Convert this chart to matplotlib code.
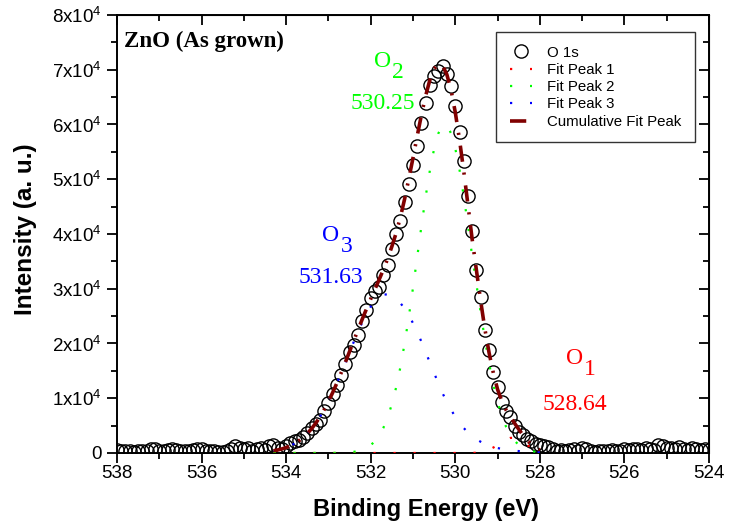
import numpy as np
import matplotlib
matplotlib.use("Agg")
import matplotlib.pyplot as plt
from matplotlib.ticker import MultipleLocator, FixedLocator
import matplotlib.transforms as mtransforms

plt.rcParams['font.family'] = ['Liberation Sans', 'DejaVu Sans']
plt.rcParams['mathtext.default'] = 'regular'

# ---- data: measured O 1s spectrum (0.1 eV step, 538.0 -> 524.0 eV) ----
e_start, e_stop, n_pts = 538.0, 524.0, 141
intensity = [
    600, 400, 300, 350, 250, 300, 450, 300, 700, 800,
    350, 300, 550, 800, 600, 400, 450, 350, 500, 800,
    650, 400, 300, 450, 200, 100, 300, 700, 1300, 1000,
    800, 900, 400, 700, 900, 600, 1200, 1500, 900, 700,
    1300, 1800, 2100, 2400, 3000, 3700, 4500, 5300, 6100, 7700,
    9100, 10700, 12500, 14200, 16300, 18400, 19800, 21500, 24100, 26100,
    28300, 29500, 30300, 32500, 34300, 37300, 40000, 42300, 45900, 49200,
    52600, 56100, 60300, 63900, 67300, 68900, 69800, 70600, 69300, 67100,
    63400, 58700, 53300, 46900, 40600, 33500, 28500, 22500, 18900, 14800,
    12100, 9300, 7600, 6500, 4900, 3800, 3200, 2600, 2100, 1700,
    1400, 1200, 1100, 700, 400, 500, 300, 600, 700, 400,
    900, 700, 300, 200, 400, 300, 400, 500, 300, 400,
    700, 600, 800, 700, 500, 900, 800, 600, 1400, 1200,
    900, 1000, 700, 1100, 800, 600, 900, 700, 500, 700,
    500,
]

# ---- fit components (0.1 eV step, 534.3 -> 528.0 eV) ----
fit_start, fit_stop, n_fit = 534.3, 528.0, 64
peak1 = [0] * 46 + [
    6, 17, 46, 113, 260, 600, 1000, 1400, 1950, 2450,
    2750, 2780, 2510, 2030, 1470, 950, 550, 290,
]
peak2 = [0] * 12 + [
    3, 6, 12, 21, 39, 71, 124, 213, 354, 581,
    920, 1430, 2160, 3190, 4610, 6490, 8920, 11950, 15620, 19940,
    24850, 30200, 35830, 41490, 46870, 51680, 55600, 58390, 59830, 59830,
    58390, 55600, 51700, 46900, 41500, 35900, 30800, 25600, 20700, 16300,
    12500, 9300, 6800, 4800, 3350, 2250, 1480, 950, 600, 370,
    220, 130,
]
peak3 = [
    400, 550, 745, 1000, 1320, 1720, 2220, 2830, 3560, 4430,
    5440, 6610, 7930, 9410, 11020, 12760, 14590, 16490, 18420, 20320,
    22150, 23870, 25400, 26710, 27760, 28500, 28910, 28990, 28800, 28200,
    27400, 26400, 25200, 23700, 22100, 20300, 18400, 16500, 14600, 12700,
    10900, 9300, 7900, 6600, 5500, 4550, 3750, 3050, 2500, 2050,
    1650, 1350, 1100, 900, 750, 620, 510, 420, 350, 290,
    240, 200, 170, 140,
]

x_ticks = [538, 536, 534, 532, 530, 528, 526, 524]
y_ticks = [0, 10000, 20000, 30000, 40000, 50000, 60000, 70000, 80000]
y_ticklabels = ['0'] + ['%dx10$^4$' % i for i in range(1, 9)]

energy = np.linspace(e_start, e_stop, n_pts)
fit_energy = np.linspace(fit_start, fit_stop, n_fit)
p1 = np.array(peak1, float)
p2 = np.array(peak2, float)
p3 = np.array(peak3, float)
cumulative = p1 + p2 + p3

fig = plt.figure(figsize=(7.29, 5.26), dpi=100)
ax = fig.add_axes([0.1605, 0.1388, 0.8121, 0.8327])

ax.plot(energy, intensity, 'o', ms=9.5, mfc='none', mec='black', mew=1.0,
        label='O 1s', zorder=3)
dot = (0, (1, 8))
ax.plot(fit_energy, p1, color='#ff0000', lw=1.6, ls=dot, label='Fit Peak 1', zorder=4)
ax.plot(fit_energy, p2, color='#00ff00', lw=1.6, ls=dot, label='Fit Peak 2', zorder=4)
ax.plot(fit_energy, p3, color='#0000ff', lw=1.6, ls=dot, label='Fit Peak 3', zorder=4)
ax.plot(fit_energy, cumulative, color='#800000', lw=2.6, ls=(0, (4.5, 3, 0.6, 3)),
        label='Cumulative Fit Peak', zorder=5)

ax.set_xlim(538, 524)
ax.set_ylim(0, 80000)
ax.xaxis.set_major_locator(FixedLocator(x_ticks))
ax.xaxis.set_minor_locator(MultipleLocator(1))
ax.yaxis.set_major_locator(FixedLocator(y_ticks))
ax.yaxis.set_minor_locator(MultipleLocator(5000))
ax.set_xticklabels([str(t) for t in x_ticks])
ax.set_yticklabels(y_ticklabels)
ax.tick_params(which='major', direction='out', length=7, width=1.3, labelsize=13.5, pad=4)
ax.tick_params(axis='x', which='major', pad=2)
ax.tick_params(which='minor', direction='out', length=4, width=1.3)
for s in ax.spines.values():
    s.set_linewidth(1.4)

secx = ax.secondary_xaxis('top')
secx.xaxis.set_major_locator(FixedLocator(x_ticks))
secx.xaxis.set_minor_locator(MultipleLocator(1))
secx.tick_params(which='major', direction='in', length=7, width=1.3, labeltop=False)
secx.tick_params(which='minor', direction='in', length=4, width=1.3)
secy = ax.secondary_yaxis('right')
secy.yaxis.set_major_locator(FixedLocator(y_ticks))
secy.yaxis.set_minor_locator(MultipleLocator(5000))
secy.tick_params(which='major', direction='in', length=7, width=1.3, labelright=False)
secy.tick_params(which='minor', direction='in', length=4, width=1.3)

ax.set_xlabel('Binding Energy (eV)', fontsize=17, fontweight='bold')
ax.set_ylabel('Intensity (a. u.)', fontsize=17.5, fontweight='bold')
ax.xaxis.set_label_coords(0.522, -0.103)
ax.yaxis.set_label_coords(-0.135, 0.51)

ax.text(0.012, 0.965, 'ZnO (As grown)', transform=ax.transAxes, ha='left', va='top',
        fontsize=16.5, fontweight='bold', family='Liberation Serif')

serif = 'Liberation Serif'
def label(xc, yc, sub, value, color, vy):
    ax.text(xc, yc, 'O', color=color, fontsize=17, family=serif, ha='right', va='baseline')
    off = mtransforms.offset_copy(ax.transData, fig=fig, x=1, y=-8, units='points')
    ax.text(xc, yc, sub, color=color, fontsize=17, family=serif, ha='left', va='baseline',
            transform=off)
    ax.text(xc + 0.2, vy, value, color=color, fontsize=17, family=serif, ha='center', va='baseline')

label(531.52, 70500, '2', '530.25', '#00ff00', 62800)
label(532.75, 38800, '3', '531.63', '#0000ff', 31000)
label(526.98, 16300, '1', '528.64', '#ff0000', 7800)

leg = ax.legend(loc='upper right', bbox_to_anchor=(0.976, 0.961), borderaxespad=0,
                fontsize=10.8, frameon=True, fancybox=False, edgecolor='black',
                handlelength=1.5, handletextpad=1.0, labelspacing=0.22, borderpad=0.9)
leg.get_frame().set_linewidth(1.0)

fig.savefig('out.png', dpi=100)
